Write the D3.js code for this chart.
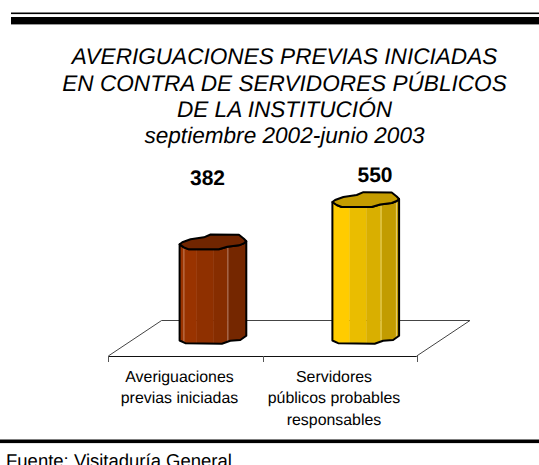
<!DOCTYPE html>
<html><head><meta charset="utf-8">
<script src="https://cdn.jsdelivr.net/npm/d3@7"></script>
<style>html,body{margin:0;padding:0;background:#fff;overflow:hidden}svg{display:block}text{font-family:"Liberation Sans",Arial,sans-serif;fill:#000;text-rendering:geometricPrecision}</style>
</head><body><svg id="c" width="539" height="465"></svg>
<script>
const categories = ["Averiguaciones previas iniciadas","Servidores públicos probables responsables"];
const values = [382,550];
const categoryLines = [["Averiguaciones","previas iniciadas"],["Servidores","públicos probables","responsables"]];
const titleLines = ["AVERIGUACIONES PREVIAS INICIADAS","EN CONTRA DE SERVIDORES PÚBLICOS","DE LA INSTITUCIÓN","septiembre 2002-junio 2003"];
const source = "Fuente: Visitaduría General";
const stripeColors = [["#993300","#8f3000","#862d00","#752700"],["#ffcc00","#eabd00","#d9af00","#c29c00"]];
const capColors = ["#702500","#c49c00"];
const edgeColors = [["#c8825e","#b9806a"],["#f0d860","#e8d070"]];

const svg = d3.select("#c");
const x = d3.scaleBand().domain(categories).range([108.3,416.7]);
const y = d3.scaleLinear().domain([0,550]).range([340.5,202]);
const barW = 66.7, depthX = 53.3, depthY = 36;
const stripeEdges = [0,17,34,48,67];
const highlight = [[4.3,48.3],[48.7,64]];
const nudge = [0.9,-0.5];

// rules
svg.append("rect").attr("x",11).attr("y",12.5).attr("width",528).attr("height",1.6);
svg.append("rect").attr("x",11).attr("y",17).attr("width",528).attr("height",7.4);
svg.append("rect").attr("x",0).attr("y",439.5).attr("width",539).attr("height",3.6);

// title
const titleSize = 22.6;
titleLines.forEach((t,i)=>svg.append("text").attr("x",284.5).attr("y",[64.3,90.7,116.7,143.3][i]).attr("text-anchor","middle").attr("font-style","italic").attr("font-size",titleSize).text(t));

// floor
const fl = x.range()[0], fr = x.range()[1], fy = 356;
svg.append("path").attr("fill","none").attr("stroke","#444").attr("stroke-width",1)
  .attr("d",d3.line()([[fl,fy],[fl+depthX,fy-depthY+.5],[fr+depthX,fy-depthY+.5],[fr,fy]]));
svg.append("line").attr("x1",fl).attr("x2",fr).attr("y1",fy+.5).attr("y2",fy+.5).attr("stroke","#111");
[fl,fl+x.bandwidth(),fr].forEach(v=>svg.append("line").attr("x1",Math.round(v)+.5).attr("x2",Math.round(v)+.5).attr("y1",fy).attr("y2",fy+6).attr("stroke","#555"));

// irregular cylinder profile
const front = [[0,0],[4.3,3],[9.3,5],[39.3,5],[47.7,2.5],[59.3,1],[64.3,-1],[66.7,-3]];
const back = [[66.7,-3],[64.3,-5.5],[59.3,-9.5],[31,-9.8],[24.3,-7],[11,-5],[2.7,-2],[0,0]];
const baseFront = [[0,0],[5.7,2.7],[42.3,3.2],[50.7,0.3],[60.7,-0.5],[66.7,-4.8]];
const line = d3.line();
const defs = svg.append("defs");
categories.forEach((c,i)=>{
  const bx = x(c) + x.bandwidth()/2 + depthX/2 - barW/2 + nudge[i], top = y(values[i]), base = y(0);
  const g = svg.append("g");
  const shift = (pts,yy)=>pts.map(p=>[bx+p[0],yy+p[1]]);
  const bodyPts = shift(baseFront,base).concat(shift(front,top).reverse());
  const id = "clip"+i;
  defs.append("clipPath").attr("id",id).append("path").attr("d",line(bodyPts)+"Z");
  const s = g.append("g").attr("clip-path","url(#"+id+")");
  stripeColors[i].forEach((col,k)=>s.append("rect").attr("x",bx+stripeEdges[k]).attr("y",top-20).attr("width",stripeEdges[k+1]-stripeEdges[k]+.3).attr("height",base-top+40).attr("fill",col));
  highlight[i].forEach((o,k)=>s.append("line").attr("x1",bx+o).attr("x2",bx+o).attr("y1",top-20).attr("y2",base+20).attr("stroke",edgeColors[i][k]).attr("stroke-width",1));
  g.append("path").attr("d",line(bodyPts)+"Z").attr("fill","none").attr("stroke","#000").attr("stroke-width",2).attr("stroke-linejoin","round");
  const capPts = shift(front,top).concat(shift(back,top).slice(1));
  g.append("path").attr("d",line(capPts)+"Z").attr("fill",capColors[i]).attr("stroke","#000").attr("stroke-width",2).attr("stroke-linejoin","round");
  svg.append("text").attr("x",[207.5,375][i]).attr("y",[185,182.3][i]).attr("text-anchor","middle").attr("font-weight","bold").attr("font-size",21).text(values[i]);
  categoryLines[i].forEach((t,k)=>svg.append("text").attr("x",[179.5,334][i]).attr("y",381.5+k*21.8).attr("text-anchor","middle").attr("font-size",15.9).text(t));
});
svg.append("text").attr("x",6).attr("y",466.5).attr("font-size",18.5).text(source);
</script></body></html>
